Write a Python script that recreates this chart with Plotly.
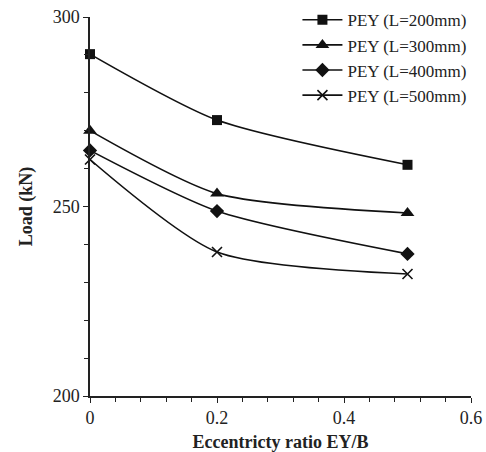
import plotly.graph_objects as go

x_vals = [0, 0.2, 0.5]
load_200 = [290.2, 272.8, 261.0]
load_300 = [270.0, 253.4, 248.3]
load_400 = [264.8, 248.8, 237.5]
load_500 = [262.4, 238.0, 232.2]
names = ["PEY (L=200mm)", "PEY (L=300mm)", "PEY (L=400mm)", "PEY (L=500mm)"]
symbols = ["square", "triangle-up", "diamond", "x-thin"]
sizes = [10, 12, 11, 10]

FONT = "Liberation Serif, Times New Roman, serif"
fig = go.Figure()
for i, (ys, nm, sym, sz) in enumerate(zip([load_200, load_300, load_400, load_500], names, symbols, sizes)):
    fig.add_trace(go.Scatter(
        x=x_vals, y=ys, name=nm, mode="lines+markers", legendgroup=f"g{i}",
        line=dict(color="#111111", width=1.6, shape="spline", smoothing=0.7),
        marker=dict(symbol=sym, size=sz, color="#111111",
                    line=dict(color="#111111", width=1.6 if sym == "x-thin" else 0)),
    ))

fig.update_layout(
    width=486, height=452,
    margin=dict(l=90, r=15, t=17, b=56, autoexpand=False),
    paper_bgcolor="white", plot_bgcolor="white",
    font=dict(family=FONT, color="#222222", size=18),
    showlegend=True,
    legend=dict(x=0.612, y=0.995, xref="container", yref="container", xanchor="left", yanchor="top",
                bgcolor="rgba(0,0,0,0)", font=dict(size=17, family=FONT),
                tracegroupgap=0, itemwidth=40),
    xaxis=dict(range=[0, 0.6], tickvals=[0, 0.2, 0.4, 0.6], ticktext=["0", "0.2", "0.4", "0.6"],
               showgrid=False, zeroline=False, showline=True, linecolor="#222222", linewidth=1.5,
               ticks="outside", ticklen=5, tickcolor="#222222", tickwidth=1.3, automargin=False,
               minor=dict(dtick=0.04, tick0=0, ticks="outside", ticklen=4, tickcolor="#222222", tickwidth=1.2, showgrid=False),
               title=dict(text="<b>Eccentricty ratio EY/B</b>", font=dict(size=18, family=FONT), standoff=14)),
    yaxis=dict(range=[200, 300], tickvals=[200, 250, 300], ticktext=["200", "250", "300"],
               showgrid=False, zeroline=False, showline=True, linecolor="#222222", linewidth=1.5,
               ticks="outside", ticklen=5, tickcolor="#222222", tickwidth=1.3, automargin=False,
               minor=dict(dtick=10, tick0=200, ticks="outside", ticklen=4, tickcolor="#222222", tickwidth=1.2, showgrid=False),
               title=dict(text="<b>Load (kN)</b>", font=dict(size=18, family=FONT), standoff=15)),
)
fig.update_traces(cliponaxis=False)
fig.write_html("out.html")
